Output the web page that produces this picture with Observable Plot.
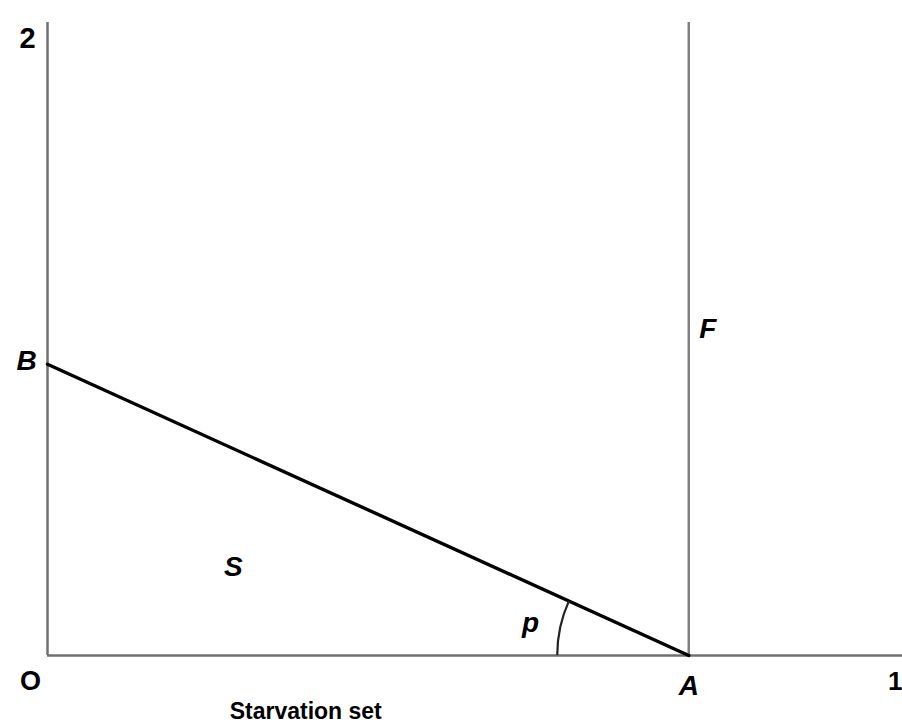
<!DOCTYPE html>
<html>
<head>
<meta charset="utf-8">
<script src="https://cdn.jsdelivr.net/npm/d3@7"></script>
<script src="https://cdn.jsdelivr.net/npm/@observablehq/plot@0.6"></script>
<style>
  body { margin: 0; background: #fff; }
  svg { display: block; }
</style>
</head>
<body>
<div id="chart"></div>
<script>
// Diagram values (data units: x from 0 to 1, y from 0 to 2)
const pointA = 0.75;     // A on the x axis
const pointB = 0.92;     // B on the y axis
const xMax = 1;
const yMax = 2;
const budgetLine = [{x: 0, y: pointB}, {x: pointA, y: 0}];
const tickLabels = [
  {x: 0, y: yMax, text: "2"},
  {x: 0, y: 0, text: "O"},
  {x: xMax, y: 0, text: "1"}
];
const pointLabels = [
  {x: 0, y: pointB, text: "B"},
  {x: pointA, y: 0, text: "A"},
  {x: pointA, y: 1.033, text: "F"},
  {x: 0.2175, y: 0.278, text: "S"},
  {x: 0.565, y: 0.104, text: "p"}
];
const captionLabel = [{x: 0.302, y: 0, text: "Starvation set"}];

const font = "Liberation Sans, Arial, Helvetica, sans-serif";

// angle arc at A, drawn in pixel space from the scales
function angleArc(index, scales) {
  const cx = scales.x(pointA), cy = scales.y(0);
  const bx = scales.x(0), by = scales.y(pointB);
  const ang = Math.atan2(cy - by, cx - bx);
  const r = 131;
  const a1 = Math.PI - ang;
  const x0 = cx - r, y0 = cy;
  const x1 = cx + r * Math.cos(a1), y1 = cy - r * Math.sin(a1);
  return d3.create("svg:path")
    .attr("d", `M${x0},${y0} A${r},${r} 0 0 1 ${x1},${y1}`)
    .attr("fill", "none")
    .attr("stroke", "#222")
    .attr("stroke-width", 2.2)
    .node();
}

const pick = (arr, t) => arr.filter(d => d.text === t);
const txt = {x: "x", y: "y", text: "text", fontWeight: "bold", fill: "#000"};

const chart = Plot.plot({
  width: 902,
  height: 725,
  marginLeft: 47,
  marginRight: 0,
  marginTop: 22,
  marginBottom: 70,
  x: {domain: [0, xMax], axis: null},
  y: {domain: [0, yMax], axis: null},
  style: {fontFamily: font, background: "#fff"},
  marks: [
    Plot.ruleX([0], {y1: 0, y2: yMax, stroke: "#707070", strokeWidth: 2.5}),
    Plot.ruleY([0], {x1: 0, x2: xMax, stroke: "#707070", strokeWidth: 2.5}),
    Plot.ruleX([pointA], {y1: 0, y2: yMax, stroke: "#808080", strokeWidth: 2.5}),
    Plot.line(budgetLine, {x: "x", y: "y", stroke: "#000", strokeWidth: 3.4}),
    Plot.dot([0], {x: pointA, y: 0, r: 0, render: angleArc}),
    Plot.text(pick(tickLabels, "2"), {...txt, dx: -20, dy: 16, fontSize: 29}),
    Plot.text(pick(tickLabels, "O"), {...txt, dx: -17, dy: 26, fontSize: 27}),
    Plot.text(pick(tickLabels, "1"), {...txt, dx: -8, dy: 26, fontSize: 26, textAnchor: "end", dx: 0}),
    Plot.text(pick(pointLabels, "B"), {...txt, dx: -21, dy: -3, fontSize: 28, fontStyle: "italic"}),
    Plot.text(pick(pointLabels, "A"), {...txt, dx: 0, dy: 31, fontSize: 28, fontStyle: "italic"}),
    Plot.text(pick(pointLabels, "F"), {...txt, dx: 19, dy: 0, fontSize: 28, fontStyle: "italic"}),
    Plot.text(pick(pointLabels, "S"), {...txt, fontSize: 28, fontStyle: "italic"}),
    Plot.text(pick(pointLabels, "p"), {...txt, fontSize: 28, fontStyle: "italic"}),
    Plot.text(captionLabel, {...txt, dy: 56, fontSize: 23})
  ]
});
document.getElementById("chart").appendChild(chart);
</script>
</body>
</html>
